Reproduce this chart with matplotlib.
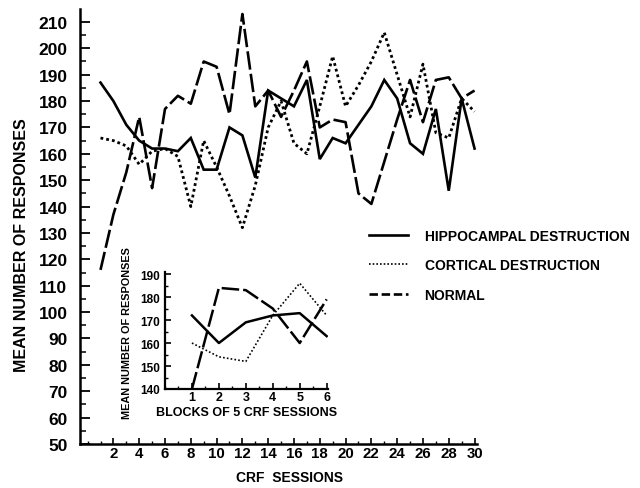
import matplotlib
matplotlib.use('Agg')
import matplotlib.pyplot as plt
from matplotlib.ticker import MultipleLocator
from matplotlib.lines import Line2D

# ---- data ----
sessions = list(range(1, 31))
hippocampal = [187, 180, 171, 165, 162, 162, 161, 166, 154, 154,
               170, 167, 151, 184, 181, 178, 188, 158, 166, 164,
               171, 178, 188, 181, 164, 160, 177, 146, 181, 162]
cortical = [166, 165, 163, 156, 161, 162, 159, 140, 165, 155,
            144, 132, 148, 170, 180, 164, 160, 178, 197, 178,
            186, 195, 206, 190, 174, 194, 168, 166, 181, 176]
normal = [116, 137, 153, 174, 147, 177, 182, 179, 195, 193,
          175, 213, 178, 184, 174, 184, 195, 170, 173, 172,
          145, 141, 157, 173, 188, 172, 188, 189, 181, 184]

blocks = [1, 2, 3, 4, 5, 6]
hip_blocks = [172, 160, 169, 172, 173, 163]
cort_blocks = [160, 154, 152, 172, 186, 172]
norm_blocks = [140, 184, 183, 175, 160, 179]

labels = ["HIPPOCAMPAL DESTRUCTION", "CORTICAL DESTRUCTION", "NORMAL"]
x_ticks = list(range(2, 31, 2))
y_ticks = list(range(50, 211, 10))
inset_y_ticks = list(range(140, 191, 10))

plt.rcParams['font.family'] = ['Liberation Sans', 'DejaVu Sans']
plt.rcParams['font.weight'] = 'bold'

W, H = 640, 489
fig = plt.figure(figsize=(6.4, 4.89), dpi=100)
ax = fig.add_axes([80 / W, 44 / H, 397 / W, 435 / H])

ax.plot(sessions, hippocampal, color='black', lw=1.9, solid_joinstyle='miter')
ax.plot(sessions, cortical, color='black', lw=2.0, linestyle=(0, (1, 1.1)))
ax.plot(sessions, normal, color='black', lw=1.9, linestyle=(0, (7, 1.6)))

ax.set_xlim(-0.59, 30.19)
ax.set_ylim(50, 214.9)
for s in ['top', 'right']:
    ax.spines[s].set_visible(False)
for s in ['left', 'bottom']:
    ax.spines[s].set_linewidth(1.8)

ax.set_xticks(x_ticks)
ax.xaxis.set_minor_locator(MultipleLocator(1))
ax.set_yticks(y_ticks)
ax.yaxis.set_minor_locator(MultipleLocator(5))
ax.tick_params(axis='x', which='major', direction='in', length=4, width=1.2,
               pad=1.5, labelsize=10.8)
ax.tick_params(axis='x', which='minor', direction='in', length=2, width=1.0)
ax.tick_params(axis='y', which='major', direction='in', length=7, width=1.3,
               pad=9, labelsize=12.5)
ax.tick_params(axis='y', which='minor', direction='in', length=4, width=1.1)

ax.set_ylabel("MEAN NUMBER OF RESPONSES", fontsize=11.5, fontweight='bold', va='center')
ax.yaxis.set_label_coords((22 - 80) / 397, (445 - 245) / 435)
ax.set_xlabel("CRF  SESSIONS", fontsize=10, fontweight='bold', va='center')
ax.xaxis.set_label_coords((290 - 80) / 397, (445 - 478) / 435)

legend_handles = [
    Line2D([], [], color='black', lw=1.9),
    Line2D([], [], color='black', lw=1.2, linestyle=(0, (1, 1.2))),
    Line2D([], [], color='black', lw=1.9, linestyle=(0, (3.2, 1.4))),
]
ax.legend(legend_handles, labels, loc='upper left',
          bbox_to_anchor=(369 / W, 1 - 230 / H), bbox_transform=fig.transFigure,
          frameon=False, handlelength=2.8, handletextpad=1.2, labelspacing=1.1,
          borderpad=0, borderaxespad=0, prop=dict(size=10, weight='bold'))

# ---- inset ----
ax2 = fig.add_axes([165 / W, 99 / H, 163 / W, 117 / H])
ax2.plot(blocks, hip_blocks, color='black', lw=1.8)
ax2.plot(blocks, cort_blocks, color='black', lw=1.2, linestyle=(0, (1, 1.3)))
ax2.plot(blocks, norm_blocks, color='black', lw=1.8, linestyle=(0, (7, 1.6)))
ax2.set_xlim(0, 6.05)
ax2.set_ylim(140, 190.9)
for s in ['top', 'right']:
    ax2.spines[s].set_visible(False)
for s in ['left', 'bottom']:
    ax2.spines[s].set_linewidth(1.6)
ax2.set_xticks(blocks)
ax2.xaxis.set_minor_locator(MultipleLocator(0.5))
ax2.set_yticks(inset_y_ticks)
ax2.yaxis.set_minor_locator(MultipleLocator(5))
ax2.tick_params(axis='x', which='major', direction='in', length=4, width=1.2,
                pad=1.5, labelsize=9)
ax2.tick_params(axis='x', which='minor', direction='in', length=2, width=1.0)
ax2.tick_params(axis='y', which='major', direction='in', length=4, width=1.2,
                pad=3.5, labelsize=8.5)
ax2.tick_params(axis='y', which='minor', direction='in', length=2.5, width=1.0)
ax2.set_ylabel("MEAN NUMBER OF RESPONSES", fontsize=7.8, fontweight='bold', va='center')
ax2.yaxis.set_label_coords((127 - 165) / 163, (390 - 333) / 117)
ax2.set_xlabel("BLOCKS OF 5 CRF SESSIONS", fontsize=9, fontweight='bold', va='center')
ax2.xaxis.set_label_coords((247 - 165) / 163, (390 - 413) / 117)

fig.savefig("out.png", dpi=100)
